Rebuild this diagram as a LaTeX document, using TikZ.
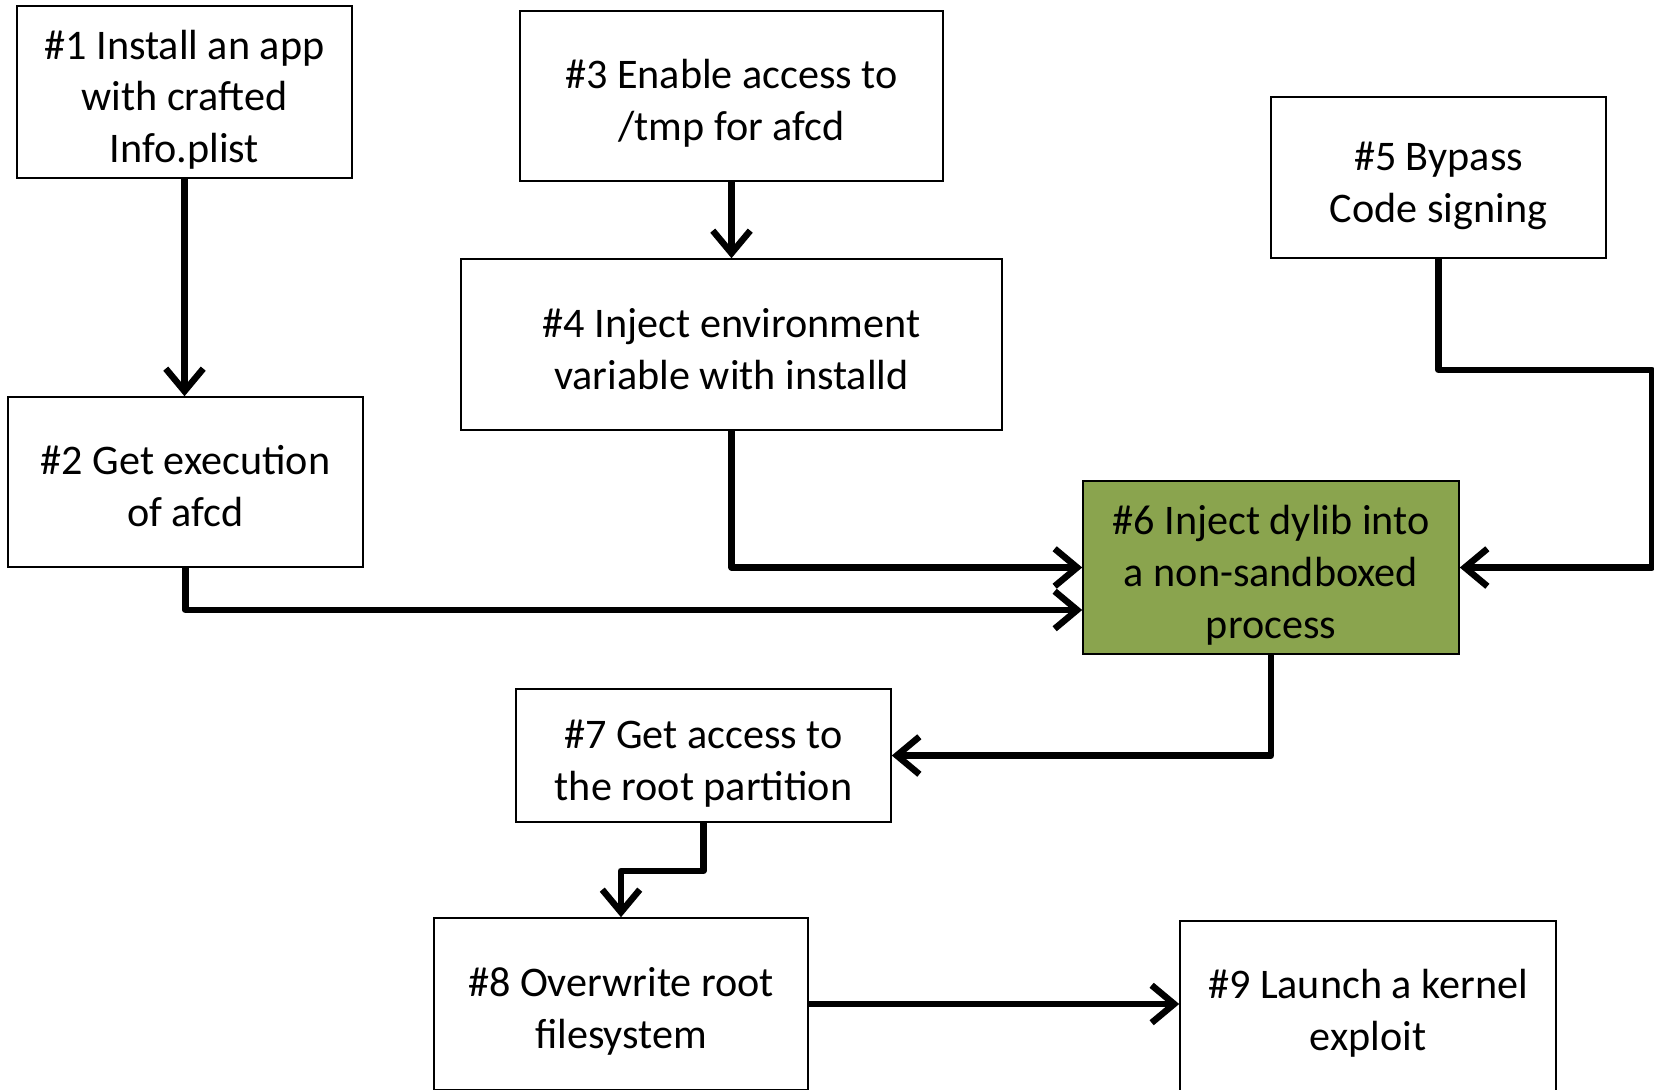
\documentclass[tikz,border=0pt]{standalone}
\usepackage{fontspec}
\setmainfont{Carlito}
\usetikzlibrary{arrows.meta}
\definecolor{stepgreen}{RGB}{138,164,78}
\begin{document}
\begin{tikzpicture}[
    box/.style={draw, line width=0.9pt, align=center, inner sep=0pt, text height=2.1cm, text depth=0.31cm, font=\fontsize{24}{29.5}\selectfont},
    threelines/.style={text height=3.14cm},
    link/.style={line width=0.13cm, line join=round, -{Straight Barb[length=0.45cm, width=0.75cm]}}
]
    \useasboundingbox (0,0) rectangle (33.08,-21.78);
    % steps
    \node[box, threelines, minimum width=6.7cm, minimum height=3.4cm] (n1) at (3.69,-1.84) {\#1 Install an app\\with crafted\\Info.plist};
    \node[box, minimum width=7.1cm, minimum height=3.4cm] (n2) at (3.71,-9.64) {\#2 Get execution\\of afcd};
    \node[box, minimum width=8.46cm, minimum height=3.4cm] (n3) at (14.63,-1.92) {\#3 Enable access to\\/tmp for afcd};
    \node[box, minimum width=10.82cm, minimum height=3.42cm] (n4) at (14.63,-6.89) {\#4 Inject environment\\variable with installd};
    \node[box, minimum width=6.7cm, minimum height=3.22cm] (n5) at (28.77,-3.55) {\#5 Bypass\\Code signing};
    \node[box, threelines, fill=stepgreen, minimum width=7.52cm, minimum height=3.42cm] (n6) at (25.42,-11.35) {\#6 Inject dylib into\\a non-sandboxed\\process};
    \node[box, minimum width=7.5cm, minimum height=2.66cm] (n7) at (14.07,-15.11) {\#7 Get access to\\the root partition};
    \node[box, minimum width=7.48cm, minimum height=3.44cm] (n8) at (12.42,-20.08) {\#8 Overwrite root\\filesystem};
    \node[box, minimum width=7.52cm, minimum height=3.4cm] (n9) at (27.36,-20.12) {\#9 Launch a kernel\\exploit};
    \coordinate (edge) at (33.04,-7.4);
    % links
    \draw[link] (n1.south) -- (n1.south |- n2.north);
    \draw[link] (n3.south) -- (n4.north);
    \draw[link] (n4.south) |- (n6.west);
    \draw[link] (n2.south) |- ([yshift=-0.85cm]n6.west);
    \draw[link] (n5.south) |- (edge) |- (n6.east);
    \draw[link] (n6.south) |- (n7.east);
    \draw[link] (n7.south) -- ++(0,-0.96) -| (n8.north);
    \draw[link] (n8.east) -- (n8.east -| n9.west);
\end{tikzpicture}
\end{document}
